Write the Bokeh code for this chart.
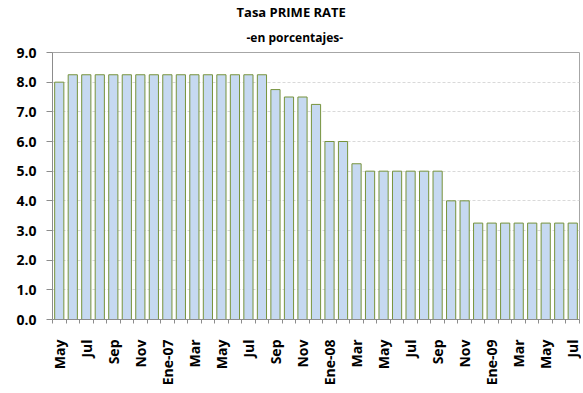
import math
from bokeh.plotting import figure
from bokeh.models import FixedTicker, Title, Range1d, NumeralTickFormatter
from bokeh.embed import file_html
from bokeh.resources import INLINE

months = ["May", "Jun", "Jul", "Ago", "Sep", "Oct", "Nov", "Dic",
          "Ene-07", "Feb", "Mar", "Abr", "May", "Jun", "Jul", "Ago", "Sep", "Oct", "Nov", "Dic",
          "Ene-08", "Feb", "Mar", "Abr", "May", "Jun", "Jul", "Ago", "Sep", "Oct", "Nov", "Dic",
          "Ene-09", "Feb", "Mar", "Abr", "May", "Jun", "Jul"]
rates = [8.00, 8.25, 8.25, 8.25, 8.25, 8.25, 8.25, 8.25,
         8.25, 8.25, 8.25, 8.25, 8.25, 8.25, 8.25, 8.25, 7.75, 7.50, 7.50, 7.25,
         6.00, 6.00, 5.25, 5.00, 5.00, 5.00, 5.00, 5.00, 5.00, 4.00, 4.00, 3.25,
         3.25, 3.25, 3.25, 3.25, 3.25, 3.25, 3.25]
y_ticks = [0, 1, 2, 3, 4, 5, 6, 7, 8, 9]

n = len(months)
xs = list(range(n))
label_pos = xs[::2]
labels = {i: months[i] for i in label_pos}

FONT = "Open Sans"

p = figure(frame_width=527, frame_height=267, output_backend="svg", toolbar_location=None,
           x_range=Range1d(-0.5, n - 0.5), y_range=Range1d(0, 9),
           min_border_left=52, min_border_right=2, min_border_top=1, min_border_bottom=4)
p.title.visible = False

p.add_layout(Title(text="-en porcentajes-", align="left", offset=194,
                   text_font=FONT, text_font_size="12px", text_font_style="bold",
                   text_color="#000000", standoff=13), "above")
p.add_layout(Title(text="Tasa PRIME RATE", align="left", offset=184,
                   text_font=FONT, text_font_size="13px", text_font_style="bold",
                   text_color="#000000", standoff=0), "above")

p.vbar(x=xs, top=rates, width=0.68, bottom=0,
       fill_color="#C6D9F1", line_color="#77933C", line_width=1)

# y axis
p.yaxis.ticker = FixedTicker(ticks=y_ticks)
p.yaxis.formatter = NumeralTickFormatter(format="0.0")
p.yaxis.major_label_text_font = FONT
p.yaxis.major_label_text_font_style = "bold"
p.yaxis.major_label_text_font_size = "14px"
p.yaxis.major_label_text_color = "#000000"
p.yaxis.axis_line_color = "#8C8C8C"
p.yaxis.major_tick_line_color = "#8C8C8C"
p.yaxis.major_tick_out = 6
p.yaxis.major_tick_in = 0
p.yaxis.minor_tick_line_color = None
p.yaxis.major_label_standoff = 10

# x axis
p.xaxis.ticker = FixedTicker(ticks=label_pos, minor_ticks=[i - 0.5 for i in range(n + 1)])
p.xaxis.major_label_overrides = labels
p.xaxis.major_label_orientation = math.pi / 2
p.xaxis.major_label_text_font = FONT
p.xaxis.major_label_text_font_style = "bold"
p.xaxis.major_label_text_font_size = "14px"
p.xaxis.major_label_text_color = "#000000"
p.xaxis.axis_line_color = "#8C8C8C"
p.xaxis.major_tick_line_color = None
p.xaxis.major_tick_out = 0
p.xaxis.major_tick_in = 0
p.xaxis.minor_tick_line_color = "#8C8C8C"
p.xaxis.minor_tick_out = 4
p.xaxis.minor_tick_in = 0
p.xaxis.major_label_standoff = 16

p.xgrid.grid_line_color = None
p.ygrid.ticker = FixedTicker(ticks=y_ticks)
p.ygrid.grid_line_color = "#D9D9D9"
p.ygrid.grid_line_dash = "3 2"

p.outline_line_color = "#A6A6A6"
p.background_fill_color = "#FFFFFF"
p.border_fill_color = "#FFFFFF"

open("out.html", "w").write(file_html(p, INLINE))
